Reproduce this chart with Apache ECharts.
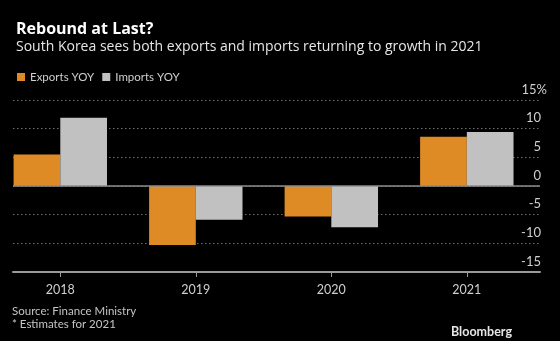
<!DOCTYPE html>
<html>
<head>
<meta charset="utf-8">
<script src="https://cdn.jsdelivr.net/npm/echarts@6/dist/echarts.min.js"></script>
<style>
  html, body { margin: 0; padding: 0; background: #000; }
  #chart { width: 560px; height: 341px; }
</style>
</head>
<body>
<div id="chart"></div>
<script>
// Year-over-year change in South Korea's trade, percent
const years = ['2018', '2019', '2020', '2021'];
const exportsYoY = [5.5, -10.3, -5.3, 8.6];
const importsYoY = [11.9, -5.9, -7.2, 9.4];
const yTicks = [-15, -10, -5, 0, 5, 10, 15];

const FONT = 'Lato, "Liberation Sans", sans-serif';
const HEAD_FONT = '"Open Sans", Lato, sans-serif';
const ORANGE = '#df8b25';
const GREY = '#c1c1c1';

// bars sit on a numeric x scale where each year is its index
const toPoints = vals => vals.map((v, i) => [i, v]);

const chart = echarts.init(document.getElementById('chart'), null, { renderer: 'canvas' });

chart.setOption({
  backgroundColor: '#000',
  animation: false,
  textStyle: { fontFamily: FONT },
  title: [
    {
      text: 'Rebound at Last?',
      left: 11, top: 16,
      textStyle: { color: '#fff', fontSize: 16, fontWeight: 'bold', fontFamily: HEAD_FONT }
    },
    {
      text: 'South Korea sees both exports and imports returning to growth in 2021',
      left: 11, top: 35,
      textStyle: { color: '#e6e6e6', fontSize: 14, fontWeight: 'normal', fontFamily: HEAD_FONT }
    }
  ],
  legend: {
    left: 12, top: 66,
    icon: 'rect',
    itemWidth: 8, itemHeight: 8,
    itemGap: 8,
    textStyle: { color: '#cfcfcf', fontSize: 11.5, fontFamily: FONT, padding: [0, 0, 0, 0] },
    data: ['Exports YOY', 'Imports YOY']
  },
  grid: { left: 13, right: 20, top: 100, bottom: 69 },
  xAxis: {
    type: 'value',
    min: -0.349,
    max: 3.54,
    splitLine: { show: false },
    axisLine: { show: true, onZero: false, lineStyle: { color: '#9a9a9a', width: 2 } },
    axisTick: { show: true, length: 5, customValues: [0, 1, 2, 3], lineStyle: { color: '#9a9a9a', width: 1 } },
    axisLabel: {
      customValues: [0, 1, 2, 3],
      formatter: v => years[Math.round(v)],
      color: '#cfcfcf', fontSize: 12.5, margin: 11, fontFamily: FONT
    }
  },
  yAxis: {
    type: 'value',
    position: 'right',
    min: yTicks[0],
    max: yTicks[yTicks.length - 1],
    interval: 5,
    axisLine: { show: false },
    axisTick: { show: false },
    splitLine: { show: true, lineStyle: { color: '#6e6e6e', type: [1.5, 2.5], width: 1 } },
    axisLabel: {
      align: 'right',
      verticalAlign: 'bottom',
      margin: 7,
      padding: [0, 0, 4, 0],
      color: '#cfcfcf', fontSize: 13, fontFamily: FONT,
      formatter: v => v === 15 ? '15%' : String(v) + '{s| }',
      rich: { s: { width: 6 } }
    }
  },
  series: [
    {
      name: 'Exports YOY',
      type: 'bar',
      data: toPoints(exportsYoY),
      barWidth: 46.7,
      barGap: '0%',
      itemStyle: { color: ORANGE },
      markLine: {
        silent: true,
        symbol: ['none', 'none'],
        label: { show: false },
        lineStyle: { color: '#8c8c8c', type: 'solid', width: 1.5 },
        data: [{ yAxis: 0 }]
      }
    },
    {
      name: 'Imports YOY',
      type: 'bar',
      data: toPoints(importsYoY),
      barWidth: 46.7,
      barGap: '0%',
      itemStyle: { color: GREY }
    }
  ],
  graphic: [
    {
      type: 'text', left: 12, top: 305,
      style: { text: 'Source: Finance Ministry', fill: '#c4c4c4', font: '11.5px ' + FONT }
    },
    {
      type: 'text', left: 12, top: 318,
      style: { text: '* Estimates for 2021', fill: '#c4c4c4', font: '11.5px ' + FONT }
    },
    {
      type: 'text', right: 48, top: 325,
      style: { text: 'Bloomberg', fill: '#e6e6e6', font: 'bold 12.5px ' + FONT }
    }
  ]
});
</script>
</body>
</html>
